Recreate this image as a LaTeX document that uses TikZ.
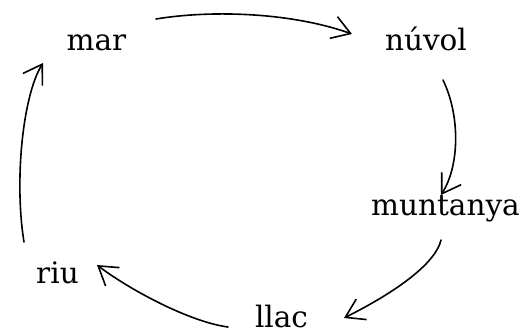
\documentclass[tikz,border=0pt]{standalone}
\usepackage{fontspec}
\newfontfamily\wordfont{DejaVu Serif}
\usetikzlibrary{arrows.meta, positioning}

\begin{document}
\begin{tikzpicture}[x=1pt,y=-1pt,
		word/.style={anchor=base, font=\wordfont\fontsize{29.5}{36}\selectfont},
		arr/.style={-{Straight Barb[length=18pt,width=23pt]}, line width=1.6pt, line cap=round, line join=round}]
	\useasboundingbox (0,0) rectangle (528,333);
	\node[word] (mar) at (96.5,50) {mar};
	\node[word] (nuvol) at (426,50) {núvol};
	\node[word] (muntanya) at (445.5,215) {muntanya};
	\node[word] (llac) at (281.5,327) {llac};
	\node[word] (riu) at (57.5,283) {riu};
	% the cycle, hand drawn
	\draw[arr] ([shift={(59.5,-31)}]mar.base) .. controls +(54,-9) and +(-62,-22) .. ([shift={(-74,-16)}]nuvol.base);
	\draw[arr] ([shift={(17,30)}]nuvol.base) .. controls +(17,35) and +(19,-30) .. ([shift={(-4.5,-20)}]muntanya.base);
	\draw[arr] ([shift={(-4.5,25)}]muntanya.base) .. controls +(-5,22) and +(56,-28) .. ([shift={(62.5,-9)}]llac.base);
	\draw[arr] ([shift={(-53.5,0)}]llac.base) .. controls +(-38,-5) and +(33,25) .. ([shift={(39.5,-18)}]riu.base);
	\draw[arr] ([shift={(-33.5,-41)}]riu.base) .. controls +(-10,-62) and +(-20,32) .. ([shift={(-53.5,13)}]mar.base);
\end{tikzpicture}
\end{document}
